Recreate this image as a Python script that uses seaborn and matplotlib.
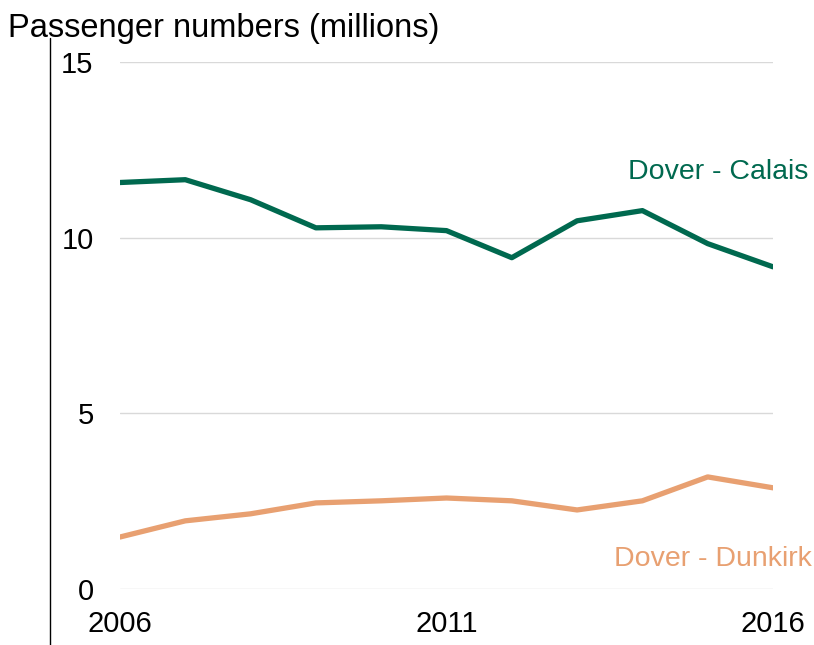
import pandas as pd
import matplotlib
matplotlib.use("Agg")
import matplotlib.pyplot as plt
import seaborn as sns
from matplotlib.lines import Line2D

# Data
years = list(range(2006, 2017))
calais = [11.57, 11.65, 11.08, 10.28, 10.31, 10.20, 9.43, 10.48, 10.77, 9.83, 9.17]
dunkirk = [1.48, 1.94, 2.14, 2.45, 2.51, 2.59, 2.51, 2.25, 2.51, 3.19, 2.88]
routes = ["Dover - Calais", "Dover - Dunkirk"]
colors = ["#00694F", "#E8A071"]
xticks = [2006, 2011, 2016]
yticks = [0, 5, 10, 15]

df = pd.DataFrame({"year": years * 2,
                   "passengers": calais + dunkirk,
                   "route": [routes[0]] * len(years) + [routes[1]] * len(years)})

sns.set_style("white")
plt.rcParams['font.family'] = ['Liberation Sans', 'DejaVu Sans']

fig = plt.figure(figsize=(8.14, 6.45), dpi=100)
ax = fig.add_axes([120 / 814, 1 - 589 / 645, 653 / 814, 527 / 645])

sns.lineplot(data=df, x="year", y="passengers", hue="route",
             palette=dict(zip(routes, colors)), linewidth=3.8, legend=False, ax=ax)

ax.set_xlim(2006, 2016)
ax.set_ylim(0, 15)
ax.set_xticks(xticks)
ax.set_yticks(yticks)
ax.tick_params(axis="y", length=0, pad=19, labelsize=21, labelcolor="black")
ax.tick_params(axis="x", length=0, pad=15, labelsize=21, labelcolor="black")
ax.grid(axis="y", color="#d9d9d9", linewidth=1)
ax.set_axisbelow(True)
for s in ax.spines.values():
    s.set_visible(False)
ax.set_xlabel("")
ax.set_ylabel("")

# Direct labels
ax.text(2016.54, 11.88, routes[0], color=colors[0], fontsize=20.5, ha="right", va="center")
ax.text(2016.6, 0.86, routes[1], color=colors[1], fontsize=20.5, ha="right", va="center")

fig.text(8 / 814, 1 - 29 / 645, "Passenger numbers (millions)", fontsize=23.5,
         ha="left", va="center", color="black")
fig.add_artist(Line2D([50 / 814, 50 / 814], [0, 1 - 38 / 645], color="black", linewidth=1))

fig.savefig("out.png", dpi=100)
